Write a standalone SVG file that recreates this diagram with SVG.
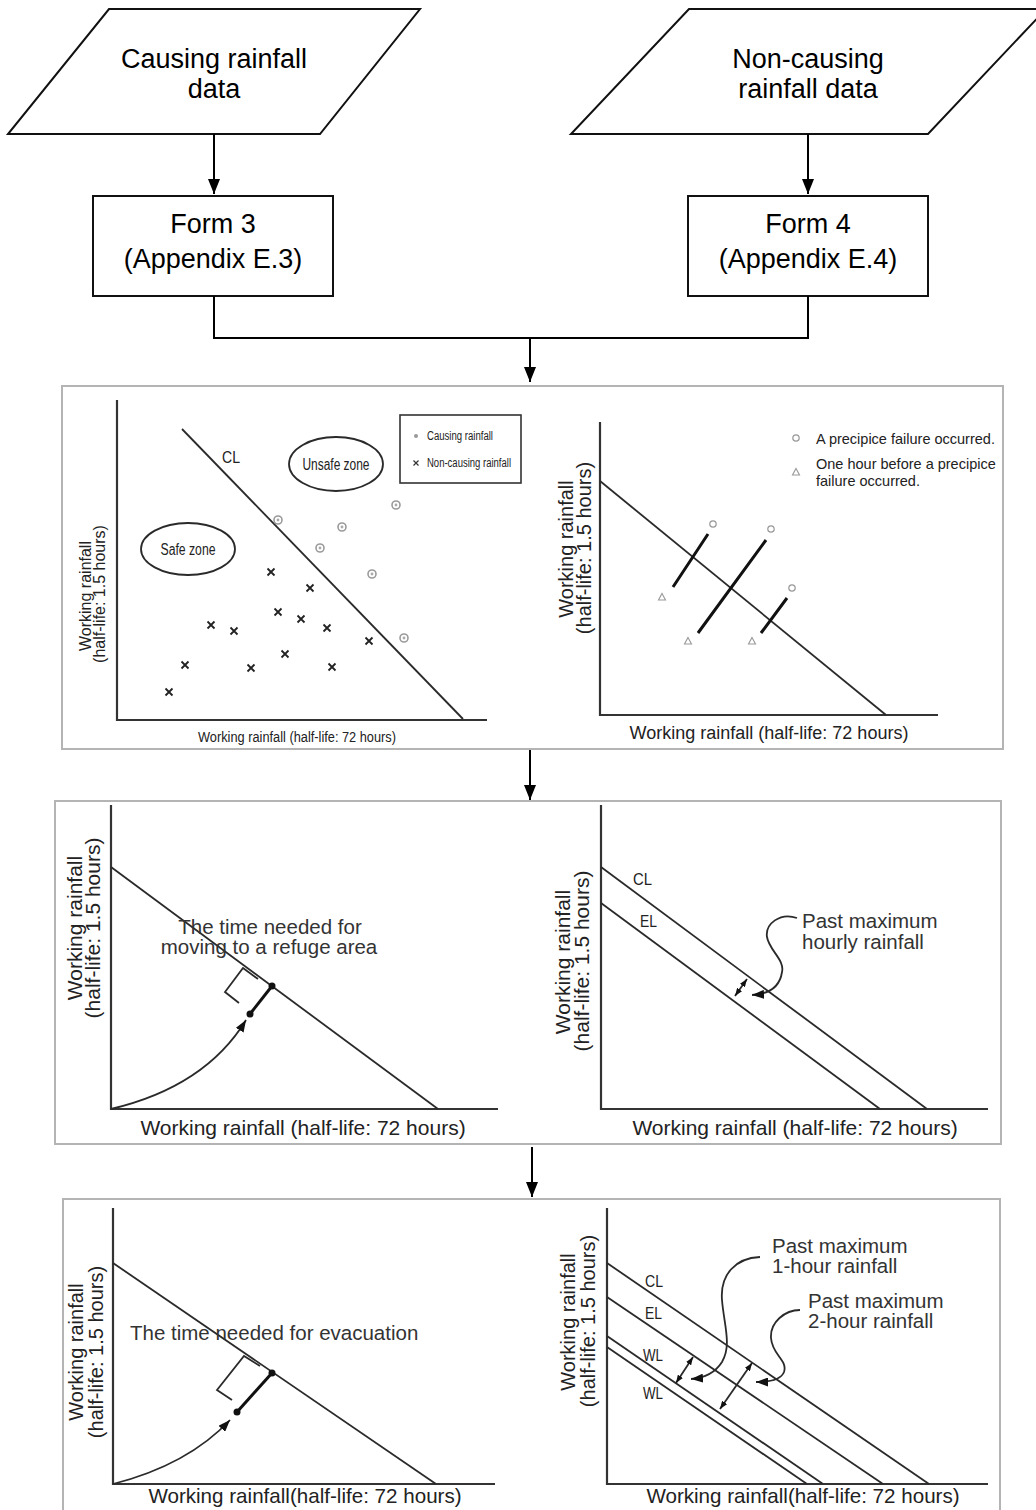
<svg xmlns="http://www.w3.org/2000/svg" width="1036" height="1510" viewBox="0 0 1036 1510">
<defs>
<style>
text{font-family:"Liberation Sans",Arial,sans-serif;fill:#222}
.node{fill:#fff;stroke:#111;stroke-width:2}
.conn{fill:none;stroke:#000;stroke-width:2}
.panel{fill:#fff;stroke:#b4b4b4;stroke-width:2}
.axis{fill:none;stroke:#333;stroke-width:2.2}
.ln{fill:none;stroke:#2a2a2a;stroke-width:1.8}
.thick{fill:none;stroke:#111;stroke-width:3}
.big{font-size:27px;fill:#000}
.lab{font-size:20.5px;fill:#333}
.xs{fill:none;stroke:#222;stroke-width:1.8}
</style>
<marker id="ah" viewBox="0 0 15 12" markerWidth="15" markerHeight="12" refX="15" refY="6" orient="auto" markerUnits="userSpaceOnUse"><path d="M0,0 L15,6 L0,12 z" fill="#000"/></marker>
<marker id="sa" viewBox="0 0 8 6" markerWidth="8" markerHeight="6" refX="8" refY="3" orient="auto" markerUnits="userSpaceOnUse"><path d="M0,0 L8,3 L0,6 z" fill="#111"/></marker>
<marker id="sas" viewBox="0 0 8 6" markerWidth="8" markerHeight="6" refX="0" refY="3" orient="auto" markerUnits="userSpaceOnUse"><path d="M8,0 L0,3 L8,6 z" fill="#111"/></marker>
<marker id="ma" viewBox="0 0 12 9" markerWidth="12" markerHeight="9" refX="12" refY="4.5" orient="auto" markerUnits="userSpaceOnUse"><path d="M0,0 L12,4.5 L0,9 z" fill="#111"/></marker>
<g id="cp"><circle r="4" fill="none" stroke="#9a9a9a" stroke-width="1.6"/><circle r="1.4" fill="#aaa"/></g>
<path id="xm" d="M-3.5,-3.5 L3.5,3.5 M3.5,-3.5 L-3.5,3.5" class="xs"/>
<circle id="oc" r="3.2" fill="none" stroke="#999" stroke-width="1.2"/>
<path id="tr" d="M0,-3.5 L3.5,3 L-3.5,3 z" fill="none" stroke="#999" stroke-width="1.1"/>
</defs>
<rect width="1036" height="1510" fill="#fff"/>

<g id="causing-data">
<polygon class="node" points="109,9 420,9 320,134 8,134"/>
<text class="big" x="214" y="68" text-anchor="middle">Causing rainfall</text>
<text class="big" x="214" y="98" text-anchor="middle">data</text>
</g>
<g id="noncausing-data">
<polygon class="node" points="689,9 1046,9 928,134 571,134"/>
<text class="big" x="808" y="68" text-anchor="middle">Non-causing</text>
<text class="big" x="808" y="98" text-anchor="middle">rainfall data</text>
</g>
<g id="form3">
<rect class="node" x="93" y="196" width="240" height="100"/>
<text class="big" x="213" y="233" text-anchor="middle">Form 3</text>
<text class="big" x="213" y="268" text-anchor="middle">(Appendix E.3)</text>
</g>
<g id="form4">
<rect class="node" x="688" y="196" width="240" height="100"/>
<text class="big" x="808" y="233" text-anchor="middle">Form 4</text>
<text class="big" x="808" y="268" text-anchor="middle">(Appendix E.4)</text>
</g>

<g id="connectors">
<path class="conn" d="M214,134 L214,194" marker-end="url(#ah)"/>
<path class="conn" d="M808,134 L808,194" marker-end="url(#ah)"/>
<path class="conn" d="M214,296 L214,338 L808,338 L808,296"/>
<path class="conn" d="M530,338 L530,382" marker-end="url(#ah)"/>
<path class="conn" d="M530,750 L530,800" marker-end="url(#ah)"/>
<path class="conn" d="M532,1147 L532,1197" marker-end="url(#ah)"/>
</g>

<g id="panel-1">
<rect class="panel" x="62" y="386" width="941" height="363"/>
<!-- left chart -->
<path class="axis" d="M117,400 L117,720 L487,720"/>
<path class="ln" d="M182,429 L463,719"/>
<text x="222" y="463" font-size="17" textLength="18" lengthAdjust="spacingAndGlyphs">CL</text>
<ellipse cx="336" cy="464" rx="47" ry="27" class="ln"/>
<text x="336" y="470" font-size="16" text-anchor="middle" textLength="67" lengthAdjust="spacingAndGlyphs">Unsafe zone</text>
<ellipse cx="188" cy="549" rx="47" ry="26" class="ln"/>
<text x="188" y="555" font-size="16" text-anchor="middle" textLength="55" lengthAdjust="spacingAndGlyphs">Safe zone</text>
<rect x="400" y="415" width="121" height="68" fill="#fff" stroke="#333" stroke-width="1.6"/>
<circle cx="416" cy="436" r="2" fill="#999"/>
<text x="427" y="440" font-size="12.5" textLength="66" lengthAdjust="spacingAndGlyphs">Causing rainfall</text>
<path d="M413.5,460.5 L418.5,465.5 M418.5,460.5 L413.5,465.5" stroke="#333" stroke-width="1.2"/>
<text x="427" y="467" font-size="12.5" textLength="84" lengthAdjust="spacingAndGlyphs">Non-causing rainfall</text>
<use href="#cp" x="278" y="520"/><use href="#cp" x="342" y="527"/><use href="#cp" x="396" y="505"/>
<use href="#cp" x="320" y="548"/><use href="#cp" x="372" y="574"/><use href="#cp" x="404" y="638"/>
<use href="#xm" x="271" y="572"/><use href="#xm" x="310" y="588"/><use href="#xm" x="278" y="612"/>
<use href="#xm" x="301" y="619"/><use href="#xm" x="327" y="628"/><use href="#xm" x="211" y="625"/>
<use href="#xm" x="234" y="631"/><use href="#xm" x="369" y="641"/><use href="#xm" x="185" y="665"/>
<use href="#xm" x="251" y="668"/><use href="#xm" x="285" y="654"/><use href="#xm" x="332" y="667"/>
<use href="#xm" x="169" y="692"/>
<text x="297" y="742" font-size="14" text-anchor="middle" textLength="198" lengthAdjust="spacingAndGlyphs">Working rainfall (half-life: 72 hours)</text>
<text transform="translate(91,596) rotate(-90)" font-size="16" text-anchor="middle">Working rainfall</text>
<text transform="translate(105,594) rotate(-90)" font-size="16" text-anchor="middle">(half-life: 1.5 hours)</text>
<!-- right chart -->
<path class="axis" d="M600,422 L600,715 L938,715"/>
<path class="ln" d="M600,481 L886,715"/>
<use href="#oc" x="796" y="438"/>
<text x="816" y="444" font-size="14.5">A precipice failure occurred.</text>
<use href="#tr" x="796" y="472"/>
<text x="816" y="469" font-size="14.5">One hour before a precipice</text>
<text x="816" y="486" font-size="14.5">failure occurred.</text>
<use href="#oc" x="713" y="524"/><use href="#oc" x="771" y="529"/><use href="#oc" x="792" y="588"/>
<use href="#tr" x="662" y="597"/><use href="#tr" x="688" y="641"/><use href="#tr" x="752" y="641"/>
<path class="thick" d="M673,587 L708,534 M698,633 L766,540 M761,633 L787,598"/>
<text x="769" y="739" font-size="18" text-anchor="middle">Working rainfall (half-life: 72 hours)</text>
<text transform="translate(573,549) rotate(-90)" font-size="20" text-anchor="middle">Working rainfall</text>
<text transform="translate(591,548) rotate(-90)" font-size="20" text-anchor="middle">(half-life: 1.5 hours)</text>
</g>

<g id="panel-2">
<rect class="panel" x="55" y="801" width="946" height="343"/>
<!-- left chart -->
<path class="axis" d="M111,805 L111,1109 L498,1109"/>
<path class="ln" d="M111,867 L438,1109"/>
<text class="lab" x="270" y="934" text-anchor="middle">The time needed for</text>
<text class="lab" x="269" y="954" text-anchor="middle">moving to a refuge area</text>
<path class="ln" d="M258,979 L243,968 L225,992 L239,1003"/>
<path class="ln" d="M111,1109 C170,1095 218,1066 246,1020" marker-end="url(#ma)"/>
<path class="thick" d="M250,1014 L272,986"/>
<circle cx="250" cy="1014" r="3.5" fill="#111"/>
<circle cx="272" cy="986" r="3.5" fill="#111"/>
<text x="303" y="1135" font-size="21" text-anchor="middle" fill="#333">Working rainfall (half-life:  72 hours)</text>
<text transform="translate(82,928) rotate(-90)" font-size="21" text-anchor="middle">Working rainfall</text>
<text transform="translate(100,928) rotate(-90)" font-size="21" text-anchor="middle">(half-life: 1.5 hours)</text>
<!-- right chart -->
<path class="axis" d="M601,805 L601,1109 L988,1109"/>
<path class="ln" d="M601,867 L927,1109"/>
<path class="ln" d="M601,903 L880,1109"/>
<text x="633" y="885" font-size="16" textLength="19" lengthAdjust="spacingAndGlyphs">CL</text>
<text x="640" y="927" font-size="16" textLength="17" lengthAdjust="spacingAndGlyphs">EL</text>
<path class="ln" d="M735,996 L747,979" marker-start="url(#sas)" marker-end="url(#sa)"/>
<path class="ln" d="M797,918 C780,912 765,924 767,937 C769,950 785,960 782,972 C780,986 770,994 752,995" marker-end="url(#ma)"/>
<text class="lab" x="802" y="928">Past maximum</text>
<text class="lab" x="802" y="949">hourly rainfall</text>
<text x="795" y="1135" font-size="21" text-anchor="middle" fill="#333">Working rainfall (half-life:  72 hours)</text>
<text transform="translate(570,962) rotate(-90)" font-size="21" text-anchor="middle">Working rainfall</text>
<text transform="translate(589,961) rotate(-90)" font-size="21" text-anchor="middle">(half-life: 1.5 hours)</text>
</g>

<g id="panel-3">
<rect class="panel" x="63" y="1199" width="937" height="320"/>
<!-- left chart -->
<path class="axis" d="M113,1208 L113,1484 L495,1484"/>
<path class="ln" d="M113,1263 L436,1484"/>
<text class="lab" x="130" y="1340">The time needed for evacuation</text>
<path class="ln" d="M260,1366 L244,1356 L217,1390 L232,1400"/>
<path class="ln" d="M113,1484 C160,1472 200,1452 230,1420" marker-end="url(#ma)"/>
<path class="thick" d="M237,1412 L272,1373"/>
<circle cx="237" cy="1412" r="3.5" fill="#111"/>
<circle cx="272" cy="1373" r="3.5" fill="#111"/>
<text x="305" y="1503" font-size="20.6" text-anchor="middle" fill="#333">Working rainfall(half-life: 72 hours)</text>
<text transform="translate(83,1352) rotate(-90)" font-size="20" text-anchor="middle">Working rainfall</text>
<text transform="translate(103,1352) rotate(-90)" font-size="20" text-anchor="middle">(half-life: 1.5 hours)</text>
<!-- right chart -->
<path class="axis" d="M607,1208 L607,1484 L988,1484"/>
<path class="ln" d="M607,1263 L929,1484"/>
<path class="ln" d="M607,1297 L883,1484"/>
<path class="ln" d="M607,1336 L823,1484"/>
<path class="ln" d="M607,1347 L807,1484"/>
<text x="645" y="1287" font-size="16" textLength="18" lengthAdjust="spacingAndGlyphs">CL</text>
<text x="645" y="1319" font-size="16" textLength="17" lengthAdjust="spacingAndGlyphs">EL</text>
<text x="643" y="1361" font-size="16" textLength="20" lengthAdjust="spacingAndGlyphs">WL</text>
<text x="643" y="1399" font-size="16" textLength="20" lengthAdjust="spacingAndGlyphs">WL</text>
<path class="ln" d="M676,1383 L693,1357" marker-start="url(#sas)" marker-end="url(#sa)"/>
<path class="ln" d="M720,1409 L752,1363" marker-start="url(#sas)" marker-end="url(#sa)"/>
<path class="ln" d="M760,1257 C735,1258 720,1275 722,1300 C724,1325 732,1345 722,1362 C715,1373 705,1378 691,1379" marker-end="url(#ma)"/>
<path class="ln" d="M800,1310 C785,1310 770,1322 771,1338 C772,1355 788,1360 784,1372 C781,1380 770,1382 756,1382" marker-end="url(#ma)"/>
<text class="lab" x="772" y="1253">Past maximum</text>
<text class="lab" x="772" y="1273">1-hour rainfall</text>
<text class="lab" x="808" y="1308">Past maximum</text>
<text class="lab" x="808" y="1328">2-hour rainfall</text>
<text x="803" y="1503" font-size="20.6" text-anchor="middle" fill="#333">Working rainfall(half-life: 72 hours)</text>
<text transform="translate(575,1322) rotate(-90)" font-size="20" text-anchor="middle">Working rainfall</text>
<text transform="translate(595,1321) rotate(-90)" font-size="20" text-anchor="middle">(half-life: 1.5 hours)</text>
</g>
</svg>
